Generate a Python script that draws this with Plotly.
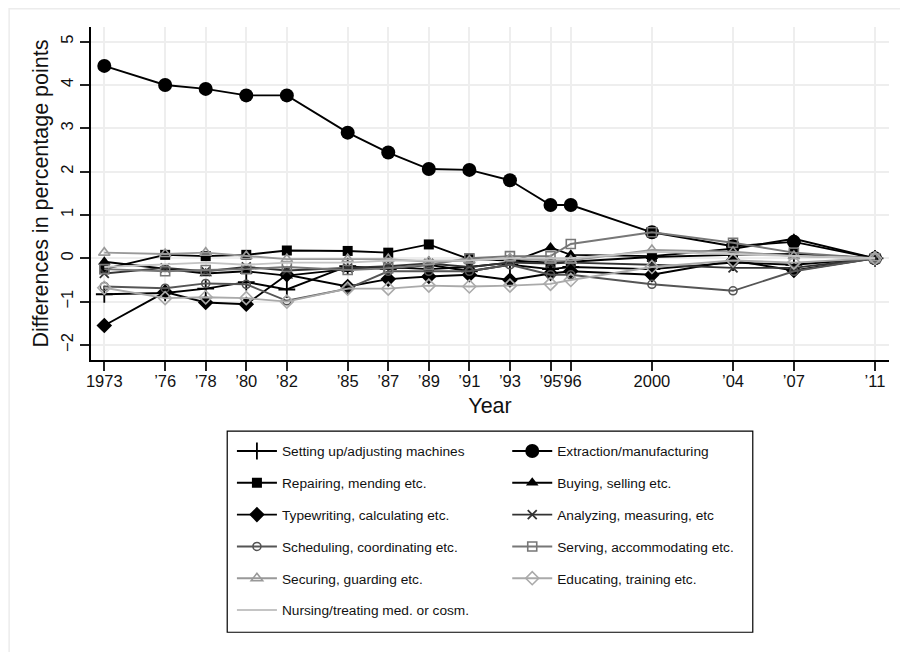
import plotly.graph_objects as go

years = [1973, 1976, 1978, 1980, 1982, 1985, 1987, 1989, 1991, 1993, 1995, 1996, 2000, 2004, 2007, 2011]
tick_text = ["1973", "\u201976", "\u201978", "\u201980", "\u201982", "\u201985", "\u201987", "\u201989",
             "\u201991", "\u201993", "\u201995", "\u201996", "2000", "\u201904", "\u201907", "\u201911"]

setting_up   = [-0.83, -0.80, -0.70, -0.55, -0.72, -0.18, -0.25, -0.15, -0.30, -0.15, -0.25, -0.20, -0.25, -0.10, -0.15, 0.0]
extraction   = [4.44, 4.00, 3.91, 3.76, 3.76, 2.90, 2.44, 2.06, 2.04, 1.80, 1.23, 1.23, 0.60, 0.28, 0.38, 0.0]
repairing    = [-0.25, 0.08, 0.05, 0.08, 0.18, 0.17, 0.13, 0.32, -0.02, -0.05, -0.10, -0.08, 0.03, 0.08, 0.10, 0.0]
buying       = [-0.08, -0.25, -0.35, -0.30, -0.40, -0.25, -0.20, -0.25, -0.20, -0.10, 0.25, 0.08, 0.05, 0.22, 0.45, 0.0]
typewriting  = [-1.55, -0.78, -1.02, -1.06, -0.38, -0.65, -0.48, -0.42, -0.38, -0.50, -0.35, -0.30, -0.38, -0.05, -0.28, 0.0]
analyzing    = [-0.35, -0.22, -0.30, -0.20, -0.28, -0.22, -0.18, -0.12, -0.20, -0.10, -0.12, -0.10, -0.15, -0.22, -0.22, 0.0]
scheduling   = [-0.65, -0.69, -0.58, -0.60, -0.98, -0.70, -0.30, -0.30, -0.30, -0.15, -0.38, -0.38, -0.60, -0.75, -0.30, 0.0]
serving      = [-0.25, -0.30, -0.27, -0.25, -0.20, -0.27, -0.23, -0.15, 0.00, 0.05, 0.05, 0.33, 0.60, 0.36, 0.13, 0.0]
securing     = [0.13, 0.10, 0.13, 0.05, -0.02, -0.02, -0.02, -0.08, -0.05, 0.00, -0.05, -0.05, 0.19, 0.15, 0.05, 0.0]
educating    = [-0.68, -0.92, -0.90, -0.92, -1.00, -0.70, -0.70, -0.63, -0.65, -0.63, -0.59, -0.50, -0.20, -0.05, -0.10, 0.0]
nursing      = [-0.20, -0.15, -0.10, -0.15, -0.10, -0.10, -0.05, -0.05, -0.05, 0.00, 0.00, 0.00, 0.15, 0.10, 0.05, 0.0]

series_names = [
    "Setting up/adjusting machines", "Extraction/manufacturing",
    "Repairing, mending etc.", "Buying, selling etc.",
    "Typewriting, calculating etc.", "Analyzing, measuring, etc",
    "Scheduling, coordinating etc.", "Serving, accommodating etc.",
    "Securing, guarding etc.", "Educating, training etc.",
    "Nursing/treating med. or cosm.",
]
series_values = [setting_up, extraction, repairing, buying, typewriting, analyzing,
                 scheduling, serving, securing, educating, nursing]

styles = [
    dict(color="#000000", symbol="cross-thin", size=12, mline=1.8),
    dict(color="#000000", symbol="circle", size=14, mline=0),
    dict(color="#000000", symbol="square", size=10, mline=0),
    dict(color="#000000", symbol="triangle-up", size=11, mline=0),
    dict(color="#000000", symbol="diamond", size=12, mline=0),
    dict(color="#333333", symbol="x-thin", size=9, mline=1.8),
    dict(color="#555555", symbol="circle-open", size=8, mline=1.6),
    dict(color="#777777", symbol="square-open", size=9, mline=1.6),
    dict(color="#999999", symbol="triangle-up-open", size=10, mline=1.6),
    dict(color="#aaaaaa", symbol="diamond-open", size=10, mline=1.6),
    dict(color="#c4c4c4", symbol=None, size=0, mline=0),
]

fig = go.Figure()
for i, (name, vals, st) in enumerate(zip(series_names, series_values, styles)):
    legend_id = "legend" if i % 2 == 0 else "legend2"
    if st["symbol"] is None:
        mode = "lines"
        marker = None
    else:
        mode = "lines+markers"
        marker = dict(symbol=st["symbol"], size=st["size"], color=st["color"],
                      line=dict(color=st["color"], width=st["mline"]))
    fig.add_trace(go.Scatter(
        x=years, y=vals, name=name, mode=mode,
        line=dict(color=st["color"], width=1.9),
        marker=marker, legend=legend_id, legendgroup="g%d" % i,
    ))

FONT = "Liberation Sans, Arial, Helvetica, sans-serif"

fig.update_layout(
    width=892, height=644,
    margin=dict(l=83, r=11, t=19, b=292, pad=0, autoexpand=False),
    paper_bgcolor="white", plot_bgcolor="white",
    font=dict(family=FONT, color="#111111"),
    showlegend=True,
    legend=dict(x=0.1766, xanchor="left", y=-0.227, yanchor="top",
                bgcolor="rgba(0,0,0,0)", borderwidth=0, tracegroupgap=11,
                itemwidth=40, font=dict(size=13.7, family=FONT, color="#111111")),
    legend2=dict(x=0.5216, xanchor="left", y=-0.227, yanchor="top",
                 bgcolor="rgba(0,0,0,0)", borderwidth=0, tracegroupgap=11,
                 itemwidth=40, font=dict(size=13.7, family=FONT, color="#111111")),
    xaxis=dict(
        range=[1972.344, 2011.69], tickmode="array", tickvals=years, ticktext=tick_text,
        tickangle=0, ticks="outside", ticklen=9, tickwidth=1.5, tickcolor="#222222",
        ticklabelstandoff=-4,
        showline=True, linecolor="#000000", linewidth=1.5,
        showgrid=True, gridcolor="#eeeeee", gridwidth=1.5, zeroline=False,
        tickfont=dict(size=16.5, family=FONT, color="#111111"),
        title=dict(text="Year", font=dict(size=21.5, family=FONT, color="#111111"), standoff=9),
    ),
    yaxis=dict(
        range=[-2.347, 5.338], tickmode="array", tickvals=[-2, -1, 0, 1, 2, 3, 4, 5],
        tickangle=-90, ticks="outside", ticklen=9, tickwidth=1.5, tickcolor="#222222",
        ticklabelstandoff=1,
        showline=True, linecolor="#000000", linewidth=1.5,
        showgrid=True, gridcolor="#eeeeee", gridwidth=1.5, zeroline=False,
        tickfont=dict(size=16.5, family=FONT, color="#111111"),
        title=dict(text="Differences in percentage points", font=dict(size=21.5, family=FONT, color="#111111"), standoff=3),
    ),
    shapes=[
        dict(type="rect", xref="paper", yref="paper", x0=0.1707, x1=0.8293, y0=-0.8176, y1=-0.2134,
             line=dict(color="#000000", width=1.2), fillcolor="rgba(0,0,0,0)", layer="above"),
        dict(type="rect", xref="paper", yref="paper", x0=-0.1026, x1=1.05, y0=-0.95, y1=1.0548,
             line=dict(color="#ececec", width=1.5), fillcolor="rgba(0,0,0,0)", layer="below"),
    ],
)

fig.write_html("out.html")
